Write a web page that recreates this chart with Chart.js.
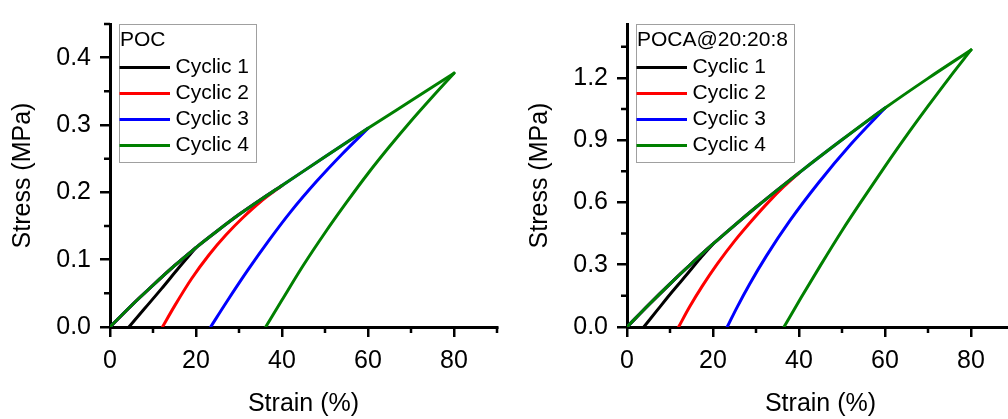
<!DOCTYPE html>
<html>
<head>
<meta charset="utf-8">
<script src="https://cdn.jsdelivr.net/npm/chart.js@4.4.0/dist/chart.umd.min.js"></script>
<style>
    html, body { margin: 0; padding: 0; background: #fff; overflow: hidden; }
    #wrap { position: relative; width: 1008px; height: 419px; overflow: hidden; }
    #pocChart { position: absolute; left: 0; top: 0; }
    #pocaChart { position: absolute; left: 504px; top: 0; }
</style>
</head>
<body>
<div id="wrap">
    <canvas id="pocChart" width="504" height="419" style="width:504px;height:419px"></canvas>
    <canvas id="pocaChart" width="520" height="419" style="width:520px;height:419px"></canvas>
</div>
<script>
/* ============================================================
   Cyclic loading – stress/strain loops (POC vs POCA@20:20:8)
   ============================================================ */

var cycleLabels = ['Cyclic 1', 'Cyclic 2', 'Cyclic 3', 'Cyclic 4'];
var cycleColors = ['#000000', '#ff0000', '#0000ff', '#008000'];
var cyclePeakStrain = [20, 40, 60, 80];

var xTicks = [0, 20, 40, 60, 80];
var xMinorTicks = [10, 30, 50, 70, 90];

// POC – loading envelope (strain %, stress MPa)
var pocLoadStrain = [0, 5, 10, 15, 20, 25, 30, 35, 40, 50, 60, 70, 80];
var pocLoadStress = [0, 0.032, 0.062, 0.091, 0.118, 0.143, 0.167, 0.189, 0.210, 0.253, 0.295, 0.336, 0.377];

// POC – unloading branches (ascending strain, ending at the peak)
var pocUnload1Strain = [4.4, 8, 12, 16, 20];
var pocUnload1Stress = [0, 0.027, 0.057, 0.088, 0.118];
var pocUnload2Strain = [12.2, 15, 19, 23, 27, 31, 35, 40];
var pocUnload2Stress = [0, 0.031, 0.072, 0.107, 0.137, 0.163, 0.186, 0.210];
var pocUnload3Strain = [23.4, 27, 32, 37, 42, 48, 54, 60];
var pocUnload3Stress = [0, 0.036, 0.084, 0.129, 0.171, 0.216, 0.257, 0.295];
var pocUnload4Strain = [36.2, 40, 45, 50, 55, 60, 65, 70, 75, 80];
var pocUnload4Stress = [0, 0.040, 0.092, 0.140, 0.185, 0.228, 0.268, 0.306, 0.342, 0.377];

var pocYTicks = [0, 0.1, 0.2, 0.3, 0.4];
var pocYMinor = [0.05, 0.15, 0.25, 0.35, 0.45];

// POCA@20:20:8 – loading envelope
var pocaLoadStrain = [0, 5, 10, 15, 20, 25, 30, 35, 40, 50, 60, 70, 80];
var pocaLoadStress = [0, 0.106, 0.208, 0.306, 0.400, 0.490, 0.577, 0.661, 0.743, 0.902, 1.055, 1.198, 1.335];

// POCA@20:20:8 – unloading branches
var pocaUnload1Strain = [3.9, 7, 10.5, 14, 17, 20];
var pocaUnload1Stress = [0, 0.080, 0.170, 0.255, 0.330, 0.400];
var pocaUnload2Strain = [12, 14.5, 17.5, 21, 25, 29, 33, 36.5, 40];
var pocaUnload2Stress = [0, 0.095, 0.197, 0.304, 0.414, 0.512, 0.604, 0.677, 0.743];
var pocaUnload3Strain = [23.3, 25.5, 28.5, 32.5, 37.8, 44.5, 52, 60];
var pocaUnload3Stress = [0, 0.091, 0.206, 0.345, 0.510, 0.694, 0.879, 1.055];
var pocaUnload4Strain = [36.5, 40.5, 45, 50, 55, 60, 65, 70, 75, 80];
var pocaUnload4Stress = [0, 0.142, 0.297, 0.464, 0.621, 0.774, 0.922, 1.064, 1.202, 1.335];

var pocaYTicks = [0, 0.3, 0.6, 0.9, 1.2];
var pocaYMinor = [0.15, 0.45, 0.75, 1.05, 1.35];

var FONT = '"Liberation Sans", Arial, sans-serif';

function pts(xs, ys) {
    return xs.map(function (x, k) { return { x: x, y: ys[k] }; });
}

function buildDatasets(loadX, loadY, unloads) {
    var sets = [];
    cycleLabels.forEach(function (label, i) {
        var load = [];
        for (var k = 0; k < loadX.length; k++) {
            if (loadX[k] <= cyclePeakStrain[i]) load.push({ x: loadX[k], y: loadY[k] });
        }
        [load, pts(unloads[i][0], unloads[i][1])].forEach(function (data) {
            sets.push({
                label: label,
                data: data,
                showLine: true,
                borderColor: cycleColors[i],
                backgroundColor: cycleColors[i],
                borderWidth: 3,
                pointRadius: 0,
                pointHoverRadius: 0,
                cubicInterpolationMode: 'monotone',
                borderCapStyle: 'round',
                borderJoinStyle: 'round',
                order: 3 - i   // green ends up on top
            });
        });
    });
    return sets;
}

function makeChart(id, cfg) {
    var canvas = document.getElementById(id);

    // minor ticks on both axes
    var minorTicks = {
        id: 'minorTicks',
        afterDraw: function (chart) {
            var ctx = chart.ctx, a = chart.chartArea;
            var xs = chart.scales.x, ys = chart.scales.y;
            ctx.save();
            ctx.strokeStyle = '#000';
            ctx.lineWidth = 2.5;
            ctx.beginPath();
            xMinorTicks.forEach(function (v) {
                var p = xs.getPixelForValue(v);
                ctx.moveTo(p, a.bottom); ctx.lineTo(p, a.bottom + 6);
            });
            cfg.yMinor.forEach(function (v) {
                var p = ys.getPixelForValue(v);
                ctx.moveTo(a.left, p); ctx.lineTo(a.left - 6, p);
            });
            ctx.stroke();
            ctx.restore();
        }
    };

    // boxed legend in the upper-left corner of the plot
    var boxLegend = {
        id: 'boxLegend',
        afterDraw: function (chart) {
            var ctx = chart.ctx, a = chart.chartArea;
            ctx.save();
            ctx.font = '21px ' + FONT;
            var left = a.left + 8.5, top = a.top;
            var titleX = a.left + 10, lineX0 = a.left + 9.5, lineX1 = a.left + 60, textX = a.left + 65.5;
            var right = titleX + ctx.measureText(cfg.title).width;
            cycleLabels.forEach(function (t) { right = Math.max(right, textX + ctx.measureText(t).width); });
            right += 6;
            var bottom = top + 138;

            ctx.fillStyle = '#fff';
            ctx.fillRect(left, top, right - left, bottom - top);
            ctx.strokeStyle = '#a0a0a0';
            ctx.lineWidth = 1;
            ctx.strokeRect(Math.round(left) + 0.5, Math.round(top) + 0.5, Math.round(right - left), Math.round(bottom - top));

            ctx.fillStyle = '#000';
            ctx.textBaseline = 'middle';
            ctx.textAlign = 'left';
            ctx.fillText(cfg.title, titleX, top + 16);
            cycleLabels.forEach(function (t, i) {
                var y = top + 43.5 + i * 26;
                ctx.strokeStyle = cycleColors[i];
                ctx.lineWidth = 3;
                ctx.beginPath();
                ctx.moveTo(lineX0, y); ctx.lineTo(lineX1, y);
                ctx.stroke();
                ctx.fillStyle = '#000';
                ctx.fillText(t, textX, y);
            });
            ctx.restore();
        }
    };

    return new Chart(canvas, {
        type: 'scatter',
        data: { datasets: buildDatasets(cfg.loadX, cfg.loadY, cfg.unloads) },
        options: {
            responsive: false,
            animation: false,
            events: [],
            layout: { padding: { left: 0, top: cfg.top, right: cfg.padRight, bottom: 0 } },
            plugins: { legend: { display: false }, tooltip: { enabled: false } },
            scales: {
                x: {
                    type: 'linear', min: 0, max: 90,
                    afterBuildTicks: function (s) { s.ticks = xTicks.map(function (v) { return { value: v }; }); },
                    afterFit: function (s) { s.height = 92; },
                    grid: { display: true, drawOnChartArea: false, drawTicks: true, tickLength: 10, lineWidth: 2.5, color: '#000' },
                    border: { display: true, color: '#000', width: 3 },
                    ticks: { color: '#000', font: { family: FONT, size: 25 }, padding: 9, maxRotation: 0, autoSkip: false,
                             callback: function (v) { return String(v); } },
                    title: { display: true, text: 'Strain (%)', color: '#000', font: { family: FONT, size: 25 }, padding: { top: 0, bottom: 0 } }
                },
                y: {
                    type: 'linear', min: 0, max: cfg.yMax,
                    afterBuildTicks: function (s) { s.ticks = cfg.yTicks.map(function (v) { return { value: v }; }); },
                    afterFit: function (s) { s.width = cfg.yWidth; },
                    grid: { display: true, drawOnChartArea: false, drawTicks: true, tickLength: 10, lineWidth: 2.5, color: '#000' },
                    border: { display: true, color: '#000', width: 3 },
                    ticks: { color: '#000', font: { family: FONT, size: 25 }, padding: 9, autoSkip: false,
                             callback: function (v) { return v.toFixed(1); } },
                    title: { display: true, text: 'Stress (MPa)', color: '#000', font: { family: FONT, size: 25 }, padding: { top: cfg.yTitlePad, bottom: 0 } }
                }
            }
        },
        plugins: [minorTicks, boxLegend]
    });
}

makeChart('pocChart', {
    title: 'POC',
    loadX: pocLoadStrain, loadY: pocLoadStress,
    unloads: [[pocUnload1Strain, pocUnload1Stress], [pocUnload2Strain, pocUnload2Stress],
              [pocUnload3Strain, pocUnload3Stress], [pocUnload4Strain, pocUnload4Stress]],
    yMax: 0.45, yTicks: pocYTicks, yMinor: pocYMinor,
    yWidth: 110, yTitlePad: 8.5, top: 16, padRight: 7
});

makeChart('pocaChart', {
    title: 'POCA@20:20:8',
    loadX: pocaLoadStrain, loadY: pocaLoadStress,
    unloads: [[pocaUnload1Strain, pocaUnload1Stress], [pocaUnload2Strain, pocaUnload2Stress],
              [pocaUnload3Strain, pocaUnload3Stress], [pocaUnload4Strain, pocaUnload4Stress]],
    yMax: 1.46, yTicks: pocaYTicks, yMinor: pocaYMinor,
    yWidth: 123, yTitlePad: 21.5, top: 15, padRight: 10
});
</script>
</body>
</html>
